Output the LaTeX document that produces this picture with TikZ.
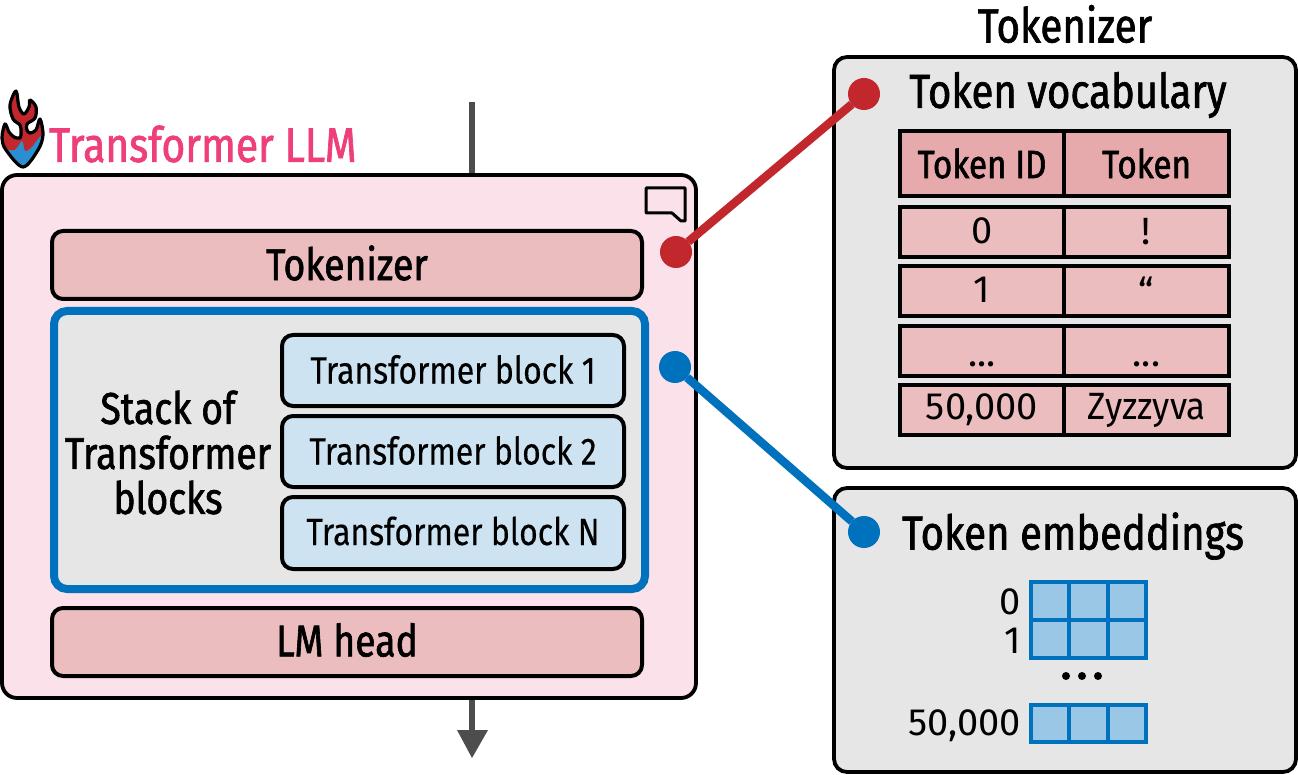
\documentclass[tikz,border=0pt]{standalone}
\usepackage{fontspec}
\setmainfont[FakeStretch=0.84,FakeBold=1.4]{Fira Sans}
\newfontfamily\plainf[FakeStretch=0.84,FakeBold=0.3]{Fira Sans}
\newfontfamily\digf[FakeStretch=1.0]{Fira Sans}
\newfontfamily\zf[FakeStretch=0.92]{Fira Sans}
\newcommand{\fs}[1]{\fontsize{#1}{#1}\selectfont}
\newcommand{\flameshape}{plot[smooth cycle,tension=0.55] coordinates {(16,91) (10,105) (13,119) (20,125) (21,132) (20,138) (14,137) (9,132) (5,124) (2,138) (6,150) (23,167) (38,150) (43,135) (40,119) (36,130) (30,133) (27,130) (27,124) (35,118) (36,107) (30,100) (29,107) (24,114) (19,107)}}
\definecolor{pinkbg}{HTML}{FBE1EA}
\definecolor{rosebox}{HTML}{ECBDBF}
\definecolor{rosehead}{HTML}{E6A9AC}
\definecolor{greybg}{HTML}{E6E6E6}
\definecolor{paleblue}{HTML}{CDE3F1}
\definecolor{midblue}{HTML}{9BC7E6}
\definecolor{deepblue}{HTML}{0071BC}
\definecolor{logoblue}{HTML}{2A8FD0}
\definecolor{deepred}{HTML}{C1272D}
\definecolor{titlepink}{HTML}{EE3F78}
\definecolor{arrowgrey}{HTML}{4D4D4D}
\tikzset{
  x=1pt,y=-1pt,
  base/.style={inner sep=0pt,outer sep=0pt,anchor=center,text=black},
  panel/.style={draw=black,line width=3.8pt,rounded corners=13pt},
  rbox/.style={draw=black,line width=4pt,rounded corners=11pt},
  cell/.style={draw=black,line width=4.4pt,fill=rosebox},
  hcell/.style={draw=black,line width=4.4pt,fill=rosehead},
  gridc/.style={draw=deepblue,line width=4.2pt,fill=midblue},
  dot/.style={circle,minimum size=32pt,inner sep=0pt,outer sep=0pt},
  link/.style={line width=8.5pt},
  flow/.style={draw=arrowgrey,line width=5.6pt},
  lbl/.style={base,font=\fs{44.5}},
  blk/.style={base,font=\plainf\fs{38}},
  tbl/.style={base,font=\digf\fs{38}},
}
\newcommand{\boxat}[6]{%
  \node[#1,minimum width={(#4)-(#2)},minimum height={(#5)-(#3)},inner sep=0pt] (#6) at ({(#2+#4)/2},{(#3+#5)/2}) {};}
\begin{document}
\begin{tikzpicture}
\useasboundingbox (0,0) rectangle (1298,775);
% flow arrows
\coordinate (inTop) at (472,102);
\coordinate (outTip) at (472,758);
\path[fill=white] (0,0) rectangle (1298,775);
\draw[flow] (inTop) -- (472,180);
\draw[flow] (472,695) -- (472,735);
\fill[arrowgrey] (457,730) -- (488,730) -- (outTip) -- cycle;
% main box
\boxat{panel,fill=pinkbg,rounded corners=15pt}{2}{175}{696}{698}{main}
\boxat{rbox,fill=rosebox}{52}{231}{642}{299}{tok}
\node[lbl,yshift=2pt] at (tok.center) {Tokenizer};
\boxat{draw=deepblue,line width=8pt,rounded corners=13pt,fill=greybg}{54}{311}{645}{589}{stack}
\node[base,align=center,font=\fontsize{44.5}{45}\selectfont] at (168,452.5) {Stack of\\Transformer\\blocks};
\boxat{rbox,fill=paleblue}{282}{335}{624}{406}{b1}
\boxat{rbox,fill=paleblue}{282}{416}{624}{487}{b2}
\boxat{rbox,fill=paleblue}{282}{497}{624}{569}{b3}
\node[blk,yshift=1pt] at (b1.center) {Transformer block 1};
\node[blk,yshift=1pt] at (b2.center) {Transformer block 2};
\node[blk,yshift=2pt] at (b3.center) {Transformer block N};
\boxat{rbox,fill=rosebox}{52}{608}{642}{676}{lm}
\node[lbl,yshift=2pt] at (lm.center) {LM head};
% speech icon
\draw[black,line width=3pt,line join=round,fill=pinkbg] (646,188) -- (685,188) -- (685,221) -- (681,221) -- (672,213) -- (646,213) -- cycle;
% title
\node[base,text=titlepink,font=\fs{48.5},anchor=west] (title) at (49,144) {Transformer LLM};
% logo
\path[fill=deepred] \flameshape;
\begin{scope}
\clip \flameshape;
\fill[logoblue] plot[smooth cycle,tension=0.5] coordinates {(5,150) (15,150) (22,141) (25,151) (31,148) (42,136) (42,160) (23,172) (5,158)};
\end{scope}
\draw[black,line width=3.2pt,line join=round] \flameshape;
% right header
\node[base,font=\fs{48}] (rtitle) at (1065,24) {Tokenizer};
% right panels
\boxat{panel,fill=greybg}{834}{57}{1296}{468}{p1}
\boxat{panel,fill=greybg}{834}{488}{1296}{772}{p2}
\node[base,font=\fs{47.7}] at (1068,95) {Token vocabulary};
\node[base,font=\fs{47.7}] at (1073,536) {Token embeddings};
% table
\boxat{hcell}{900}{131}{1064}{196}{h1}
\boxat{hcell}{1064}{131}{1229}{196}{h2}
\node[base,font=\fs{39.5}] at (h1.center) {Token ID};
\node[base,font=\fs{39.5}] at (h2.center) {Token};
\boxat{cell}{900}{207}{1064}{257}{r1a}
\boxat{cell}{1064}{207}{1229}{257}{r1b}
\boxat{cell}{900}{266}{1064}{316}{r2a}
\boxat{cell}{1064}{266}{1229}{316}{r2b}
\boxat{cell}{900}{326}{1064}{376}{r3a}
\boxat{cell}{1064}{326}{1229}{376}{r3b}
\boxat{cell}{900}{385}{1064}{435}{r4a}
\boxat{cell}{1064}{385}{1229}{435}{r4b}
\node[tbl,yshift=1pt] at (r1a.center) {0};
\node[tbl] at (r1b.center) {!};
\node[tbl,yshift=1pt] at (r2a.center) {1};
\node[tbl] at (r2b.center) {“};
\node[tbl,yshift=-13pt] at (r3a.center) {...};
\node[tbl,yshift=-13pt] at (r3b.center) {...};
\node[tbl] at (r4a.center) {50,000};
\node[base,font=\zf\fs{38}] at (r4b.center) {Zyzzyva};
% embedding grid
\foreach \cx/\dx [count=\i] in {1031/1069,1069/1108,1108/1146}{
  \boxat{gridc}{\cx}{582}{\dx}{620}{ga\i}
  \boxat{gridc}{\cx}{620}{\dx}{658}{gb\i}
  \boxat{gridc}{\cx}{705}{\dx}{742}{gc\i}
}
\node[tbl,anchor=east] at (1021,602) {0};
\node[tbl,anchor=east] at (1021,641) {1};
\node[tbl,anchor=east] at (1021,726) {50,000};
\fill[black] (1066,676) circle (4pt) (1082,676) circle (4pt) (1098,676) circle (4pt);
% connectors
\node[dot,fill=deepred] (rd1) at (676,252) {};
\node[dot,fill=deepred] (rd2) at (864,94) {};
\node[dot,fill=deepblue] (bd1) at (675,367) {};
\node[dot,fill=deepblue] (bd2) at (864,532) {};
\draw[link,deepred] (rd1) -- (rd2);
\draw[link,deepblue] (bd1) -- (bd2);
\end{tikzpicture}
\end{document}
